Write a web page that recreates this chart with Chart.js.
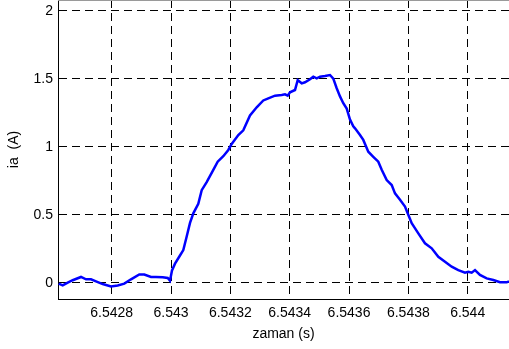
<!DOCTYPE html>
<html><head><meta charset="utf-8">
<script src="https://cdn.jsdelivr.net/npm/chart.js@4/dist/chart.umd.min.js"></script>
<style>html,body{margin:0;padding:0;background:#fff;overflow:hidden}canvas{display:block}</style>
</head><body>
<canvas id="c" width="509" height="349"></canvas>
<script>
// time (s)
const time = [
  6.5426213, 6.5426348, 6.5426517, 6.5426685, 6.5426965, 6.5427134, 6.5427302, 6.5427471,
  6.5427697, 6.5427976, 6.5428202, 6.5428425, 6.5428651, 6.5428930, 6.5429099, 6.5429325,
  6.5429493, 6.5429719, 6.5429888, 6.5429965, 6.5430033, 6.5430134, 6.5430302, 6.5430414,
  6.5430528, 6.5430640, 6.5430751, 6.5430919, 6.5431034, 6.5431202, 6.5431425, 6.5431573,
  6.5431762, 6.5431931, 6.5432045, 6.5432268, 6.5432436, 6.5432662, 6.5432888, 6.5433110,
  6.5433279, 6.5433505, 6.5433731, 6.5433842, 6.5433933, 6.5434011, 6.5434179, 6.5434270,
  6.5434405, 6.5434516, 6.5434685, 6.5434796, 6.5434911, 6.5435022, 6.5435190, 6.5435359,
  6.5435470, 6.5435585, 6.5435696, 6.5435807, 6.5435922, 6.5436033, 6.5436144, 6.5436202,
  6.5436370, 6.5436481, 6.5436650, 6.5436819, 6.5436987, 6.5437102, 6.5437270, 6.5437439,
  6.5437550, 6.5437719, 6.5437887, 6.5437998, 6.5438113, 6.5438336, 6.5438561, 6.5438787,
  6.5439010, 6.5439236, 6.5439461, 6.5439684, 6.5439910, 6.5440021, 6.5440136, 6.5440247,
  6.5440415, 6.5440641, 6.5440864, 6.5441090, 6.5441315, 6.5441393
];
// ia (A)
const current = [
  -0.007, -0.020, 0.000, 0.018, 0.042, 0.025, 0.025, 0.010,
  -0.010, -0.027, -0.020, -0.007, 0.025, 0.060, 0.060, 0.042,
  0.042, 0.040, 0.035, 0.015, 0.090, 0.140, 0.200, 0.240,
  0.340, 0.440, 0.510, 0.580, 0.680, 0.740, 0.830, 0.890,
  0.930, 0.976, 1.020, 1.086, 1.120, 1.230, 1.290, 1.340,
  1.356, 1.375, 1.380, 1.385, 1.375, 1.400, 1.417, 1.490,
  1.466, 1.474, 1.496, 1.515, 1.503, 1.515, 1.520, 1.527,
  1.500, 1.430, 1.370, 1.320, 1.280, 1.200, 1.150, 1.135,
  1.086, 1.050, 0.963, 0.926, 0.890, 0.830, 0.755, 0.718,
  0.657, 0.610, 0.560, 0.500, 0.437, 0.363, 0.290, 0.253,
  0.190, 0.154, 0.118, 0.093, 0.074, 0.081, 0.074, 0.093,
  0.057, 0.032, 0.020, 0.003, 0.003, 0.010
];
const xTicks = [6.5428, 6.543, 6.5432, 6.5434, 6.5436, 6.5438, 6.544];
const yTicks = [0, 0.5, 1, 1.5, 2];
const xTitle = 'zaman (s)';
const yTitle = 'ia  (A)';

const FONT = {family: '"Liberation Sans", Arial, Helvetica, sans-serif', size: 14};
const gridOpts = {color: '#000', lineWidth: 1, drawTicks: false};
const borderOpts = {display: true, color: '#000', width: 1, dash: [8, 5]};

const topBorder = {
  id: 'topBorder',
  afterDraw(chart) {
    const {ctx, chartArea: a} = chart;
    ctx.save();
    ctx.strokeStyle = '#9a9a9a';
    ctx.lineWidth = 1;
    ctx.beginPath();
    ctx.moveTo(a.left, a.top + 0.5);
    ctx.lineTo(a.right, a.top + 0.5);
    ctx.stroke();
    ctx.restore();
  }
};

new Chart(document.getElementById('c'), {
  type: 'line',
  data: {
    datasets: [{
      data: time.map((t, i) => ({x: t, y: current[i]})),
      borderColor: '#0000ff',
      borderWidth: 2.5,
      pointRadius: 0,
      tension: 0,
      fill: false
    }]
  },
  plugins: [topBorder],
  options: {
    responsive: false,
    animation: false,
    devicePixelRatio: 1,
    layout: {padding: 0},
    plugins: {legend: {display: false}, tooltip: {enabled: false}},
    scales: {
      x: {
        type: 'linear',
        min: 6.54261898,
        max: 6.5441393,
        afterBuildTicks: s => { s.ticks = xTicks.map(v => ({value: v})); },
        afterFit: s => { s.height = 50; s.paddingLeft = 0; s.paddingRight = 0; },
        ticks: {
          font: FONT, color: '#000', padding: 6, maxRotation: 0, autoSkip: false,
          callback: v => String(Number(v.toFixed(4)))
        },
        grid: gridOpts,
        border: borderOpts,
        title: {display: true, text: xTitle, font: FONT, color: '#000', padding: {top: 0, bottom: 6.5}}
      },
      y: {
        type: 'linear',
        min: -0.1199,
        max: 2.0787,
        afterBuildTicks: s => { s.ticks = yTicks.map(v => ({value: v})); },
        afterFit: s => { s.width = 58; s.paddingTop = 0; s.paddingBottom = 0; },
        ticks: {
          font: FONT, color: '#000', padding: 5, autoSkip: false,
          callback: v => String(v)
        },
        grid: gridOpts,
        border: borderOpts,
        title: {display: true, text: yTitle, font: FONT, color: '#000', padding: {top: 6, bottom: 0}}
      }
    }
  }
});
</script>
</body></html>
